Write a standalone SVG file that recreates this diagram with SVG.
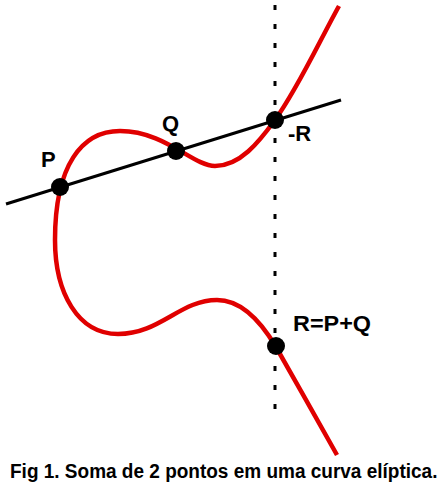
<svg xmlns="http://www.w3.org/2000/svg" width="446" height="490" viewBox="0 0 446 490">
<style>
.lbl{font-family:"Liberation Sans",Arial,sans-serif;font-weight:bold;font-size:22px;fill:#000}
.cap{font-family:"Liberation Sans",Arial,sans-serif;font-weight:bold;font-size:19px;fill:#000}
.pt{fill:#000}
</style>
<rect width="446" height="490" fill="#fff"/>
<g id="connectors">
<line id="vertical" x1="275" y1="5" x2="275" y2="411" stroke="#000" stroke-width="3" stroke-dasharray="5 14"/>
<line id="secant" x1="6" y1="204" x2="341" y2="100" stroke="#000" stroke-width="3"/>
<path id="curve" d="M339,6 C318,44 298,88 275,120 C259,142 240,166 215,166 C193,166 165,131 120,131 C82,131 55,165 55,240 C55,293 78,334 118,334 C160,334 180,300 217,300 C240,300 260,320 276,347 C295,380 320,425 337,455" fill="none" stroke="#e00000" stroke-width="4.5"/>
</g>
<g id="P"><circle class="pt" cx="60" cy="187" r="9"/><text class="lbl" x="41" y="167">P</text></g>
<g id="Q"><circle class="pt" cx="176" cy="151" r="9"/><text class="lbl" x="162" y="131">Q</text></g>
<g id="negR"><circle class="pt" cx="275" cy="120" r="9"/><text class="lbl" x="288" y="141">-R</text></g>
<g id="R"><circle class="pt" cx="276" cy="346" r="9"/><text class="lbl" x="293" y="331" textLength="78" lengthAdjust="spacingAndGlyphs">R=P+Q</text></g>
<g id="caption"><text class="cap" transform="translate(10,478) scale(1,1.08)" x="0" y="0">Fig 1. Soma de 2 pontos em uma curva elíptica.</text></g>
</svg>
